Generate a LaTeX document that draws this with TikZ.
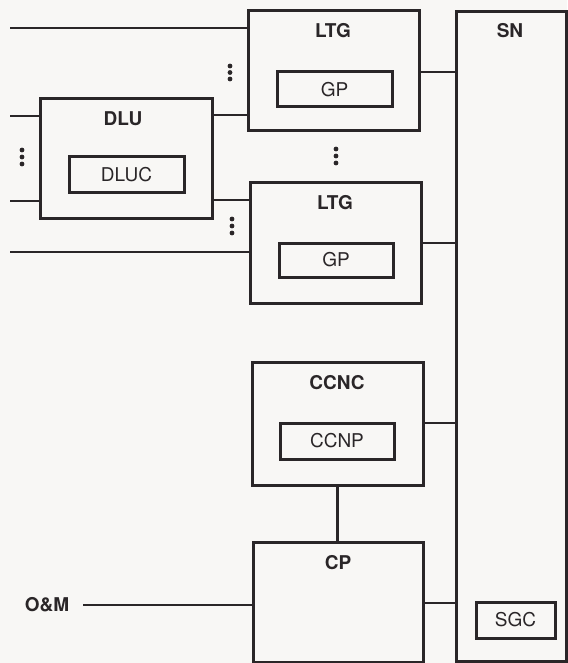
\documentclass[tikz,border=0pt]{standalone}
\usepackage{fontspec}
\setmainfont{TeX Gyre Heros}
\definecolor{ink}{RGB}{42,38,40}
\definecolor{paper}{RGB}{248,247,245}
\begin{document}
\begin{tikzpicture}[x=1pt,y=-1pt,
  box/.style={draw=ink, line width=3pt, inner sep=0pt},
  conn/.style={draw=ink, line width=1.5pt},
  thickconn/.style={draw=ink, line width=3pt},
  ttl/.style={text=ink, font=\bfseries\fontsize{19}{20}\selectfont, inner sep=0pt},
  lbl/.style={text=ink, font=\fontsize{19}{20}\selectfont, inner sep=0pt},
  dotc/.style={fill=ink, draw=none}]
\fill[paper] (0,0) rectangle (567,663);
\useasboundingbox (0,0) rectangle (567,663);
% boxes
\node[box, minimum width=171pt, minimum height=120pt] (ltg1) at (333.5,71) {};
\node[box, minimum width=115pt, minimum height=35pt, lbl] (gp1) at (334.5,89.5) {GP};
\node[ttl] (ltg1t) at (333,31) {LTG};
\node[box, minimum width=171pt, minimum height=121pt] (ltg2) at (335.5,242.5) {};
\node[box, minimum width=114pt, minimum height=34pt, lbl] (gp2) at (336,260) {GP};
\node[ttl] (ltg2t) at (335,203) {LTG};
\node[box, minimum width=172pt, minimum height=119pt] (dlu) at (126,158.5) {};
\node[box, minimum width=115pt, minimum height=35pt, lbl] (dluc) at (126.5,174.5) {DLUC};
\node[ttl] (dlut) at (123,119) {DLU};
\node[box, minimum width=110pt, minimum height=649pt] (sn) at (511,336.5) {};
\node[ttl] (snt) at (510,31) {SN};
\node[box, minimum width=79pt, minimum height=36pt, lbl] (sgc) at (515.5,620) {SGC};
\node[box, minimum width=171pt, minimum height=123pt] (ccnc) at (337.5,423.5) {};
\node[box, minimum width=114pt, minimum height=36pt, lbl] (ccnp) at (337,441) {CCNP};
\node[ttl] (ccnct) at (337,383) {CCNC};
\node[box, minimum width=170pt, minimum height=120pt] (cp) at (338,602) {};
\node[ttl] (cpt) at (338,563) {CP};
\node[ttl, anchor=center] (om) at (47,605) {O\&M};
% level coordinates
\coordinate (y1) at (10,28);
\coordinate (y2) at (10,116);
\coordinate (y3) at (10,201);
\coordinate (y4) at (10,252);
\coordinate (y5) at (0,115);
\coordinate (y6) at (0,200);
\coordinate (s1) at (0,72);
\coordinate (s2) at (0,243);
\coordinate (s3) at (0,423);
\coordinate (s4) at (0,603);
\coordinate (omend) at (83,605);
% connectors
\draw[conn] (y1) -- (y1 -| ltg1.west);
\draw[conn] (y2) -- (y2 -| dlu.west);
\draw[conn] (y3) -- (y3 -| dlu.west);
\draw[conn] (y4) -- (y4 -| ltg2.west);
\draw[conn] (y5 -| dlu.east) -- (y5 -| ltg1.west);
\draw[conn] (y6 -| dlu.east) -- (y6 -| ltg2.west);
\draw[conn] (s1 -| ltg1.east) -- (s1 -| sn.west);
\draw[conn] (s2 -| ltg2.east) -- (s2 -| sn.west);
\draw[conn] (s3 -| ccnc.east) -- (s3 -| sn.west);
\draw[conn] (s4 -| cp.east) -- (s4 -| sn.west);
\draw[thickconn] (ccnc.south) -- (ccnc.south |- cp.north);
\draw[conn] (omend) -- (omend -| cp.west);
% dots
\foreach \yy in {66,72.5,79} \fill[dotc] (230,\yy) circle (2.4);
\foreach \yy in {150,157,164} \fill[dotc] (22,\yy) circle (2.4);
\foreach \yy in {149,156,163} \fill[dotc] (336,\yy) circle (2.4);
\foreach \yy in {219,226,233} \fill[dotc] (232,\yy) circle (2.4);
\end{tikzpicture}
\end{document}
